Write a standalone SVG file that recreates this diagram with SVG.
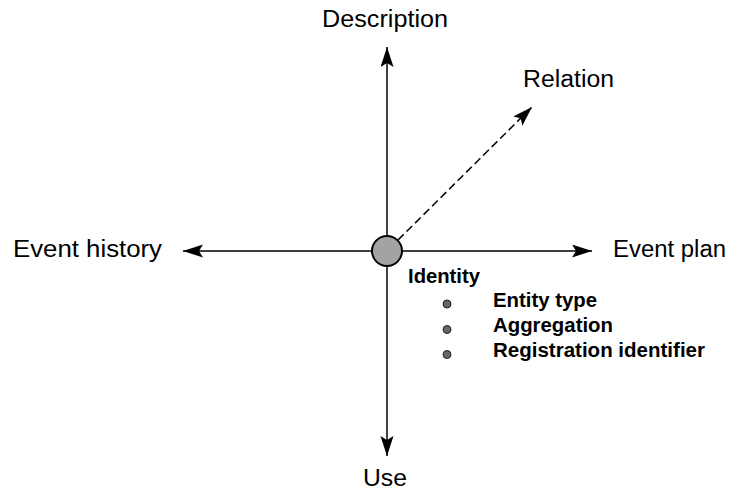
<svg xmlns="http://www.w3.org/2000/svg" width="736" height="491" viewBox="0 0 736 491">
<style>
.lbl{font-family:"Liberation Sans",Arial,sans-serif;font-size:23px;fill:#000}
.b{font-family:"Liberation Sans",Arial,sans-serif;font-size:20px;font-weight:bold;fill:#000}
.ax{stroke:#000;stroke-width:1.5;fill:none}
.dot{fill:#666;stroke:#222;stroke-width:1}
</style>
<defs>
<marker id="ah" markerUnits="userSpaceOnUse" markerWidth="22" markerHeight="14" refX="20" refY="6.5" orient="auto">
<path d="M0,0 L20,6.5 L0,13 L4,6.5 Z" fill="#000"/>
</marker>
</defs>
<rect width="736" height="491" fill="#fff"/>
<g id="connectors">
<line class="ax" x1="387" y1="251" x2="387" y2="47" marker-end="url(#ah)"/>
<line class="ax" x1="387" y1="251" x2="387" y2="456" marker-end="url(#ah)"/>
<line class="ax" x1="387" y1="251" x2="183" y2="251" marker-end="url(#ah)"/>
<line class="ax" x1="387" y1="251" x2="592" y2="251" marker-end="url(#ah)"/>
<line class="ax" x1="398" y1="240" x2="532" y2="107" stroke-dasharray="8,4" marker-end="url(#ah)"/>
</g>
<g id="center">
<circle cx="387" cy="251" r="15" fill="#a3a3a3" stroke="#000" stroke-width="2"/>
</g>
<g id="description"><text class="lbl" x="322" y="27" textLength="126" lengthAdjust="spacingAndGlyphs">Description</text></g>
<g id="relation"><text class="lbl" x="523" y="87" textLength="91" lengthAdjust="spacingAndGlyphs">Relation</text></g>
<g id="event-history"><text class="lbl" x="13" y="257" textLength="149" lengthAdjust="spacingAndGlyphs">Event history</text></g>
<g id="event-plan"><text class="lbl" x="613" y="257" textLength="113" lengthAdjust="spacingAndGlyphs">Event plan</text></g>
<g id="use"><text class="lbl" x="363" y="486" textLength="44" lengthAdjust="spacingAndGlyphs">Use</text></g>
<g id="identity">
<text class="b" x="408" y="283" textLength="72" lengthAdjust="spacingAndGlyphs">Identity</text>
<circle class="dot" cx="447" cy="304" r="4"/>
<circle class="dot" cx="447" cy="329.5" r="4"/>
<circle class="dot" cx="447" cy="354.5" r="4"/>
<text class="b" x="493" y="307" textLength="104" lengthAdjust="spacingAndGlyphs">Entity type</text>
<text class="b" x="493" y="332" textLength="120" lengthAdjust="spacingAndGlyphs">Aggregation</text>
<text class="b" x="493" y="357" textLength="212" lengthAdjust="spacingAndGlyphs">Registration identifier</text>
</g>
</svg>
